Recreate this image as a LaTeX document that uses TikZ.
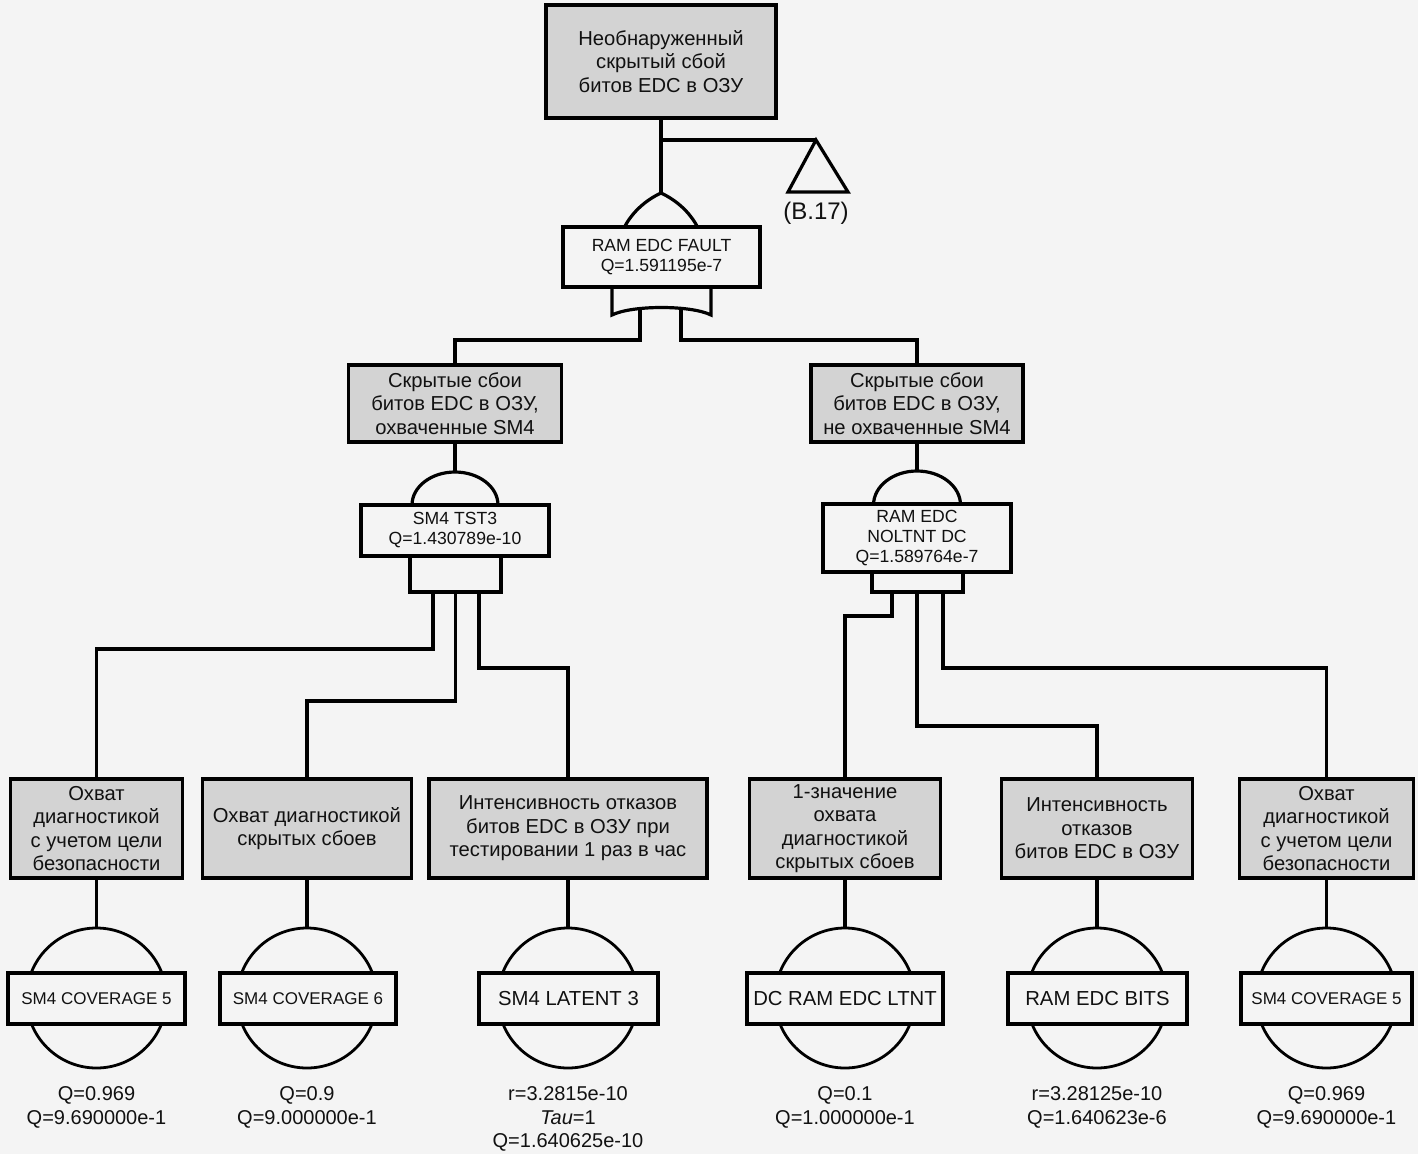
\documentclass[tikz,border=0pt]{standalone}
\usepackage{fontspec}
\setmainfont{Liberation Sans}
\definecolor{bg}{HTML}{F4F4F4}
\definecolor{boxgray}{HTML}{D3D3D3}
\definecolor{ink}{HTML}{111111}
\begin{document}
\begin{tikzpicture}[x=1pt,y=-1pt,
  line width=3.2pt, draw=black, text=ink,
  evbox/.style={draw, fill=boxgray, inner sep=0pt, align=center,
    font=\fontsize{20.2}{23.5}\selectfont},
  gatebox/.style={draw, fill=bg, inner sep=0pt, align=center,
    font=\fontsize{17.6}{20}\selectfont},
  basebox/.style={draw, fill=bg, inner sep=0pt, align=center, minimum height=51pt,
    font=\fontsize{20.3}{23}\selectfont},
  covbox/.style={basebox, font=\fontsize{17}{20}\selectfont},
  basecirc/.style={circle, draw, fill=bg, line width=2.8pt, minimum size=140pt, inner sep=0pt},
  qlbl/.style={anchor=north, inner sep=0pt, align=center,
    font=\fontsize{20}{23.5}\selectfont},
  gateshape/.style={draw, fill=bg}
]
\fill[bg] (0,0) rectangle (1418,1154);
\useasboundingbox (0,0) rectangle (1418,1154);

% ---------- gate shapes ----------
% OR gate (top)
\coordinate (g1apex) at (661,193);
\draw[gateshape] (624,228) .. controls (632,212) and (646,200) .. (g1apex)
  .. controls (676,200) and (690,212) .. (698,228);
\draw[gateshape] (612,286) -- (612,315) .. controls (632,305) and (691,305) .. (711,315) -- (711,286);
\coordinate (g1o1) at (640,307.5);
\coordinate (g1o2) at (681,307.5);
% transfer triangle
\coordinate (br) at (661,140);
\coordinate (tri) at (816,140);
\draw[gateshape] (tri) -- (788,192) -- (848,192) -- cycle;
\node[font=\fontsize{24}{26}\selectfont, inner sep=0pt] (b17) at (816,213) {(В.17)};

% AND gate left
\draw[gateshape] (412,505) arc[start angle=180, end angle=360, x radius=43, y radius=33];
\coordinate (g2top) at (455,472);
\draw[gateshape] (410,556) rectangle (501,592);
\coordinate (g2o1) at (433,592);
\coordinate (g2o2) at (455.5,592);
\coordinate (g2o3) at (479,592);

% AND gate right
\draw[gateshape] (873.5,505) arc[start angle=180, end angle=360, x radius=43.5, y radius=34];
\coordinate (g3top) at (917,471);
\draw[gateshape] (872,572) rectangle (963,592);
\coordinate (g3o1) at (892,592);
\coordinate (g3o2) at (917,592);
\coordinate (g3o3) at (943,592);

% ---------- event boxes ----------
\node[evbox, minimum width=230pt, minimum height=113pt] (top) at (661,61.5)
  {Необнаруженный\\скрытый сбой\\битов EDC в ОЗУ};
\node[gatebox, minimum width=197pt, minimum height=60pt] (g1) at (661.5,257)
  {RAM EDC FAULT\\Q=1.591195e-7};

\node[evbox, minimum width=213pt, minimum height=77pt] (L) at (455,403.5)
  {Скрытые сбои\\битов EDC в ОЗУ,\\охваченные SM4};
\node[evbox, minimum width=212pt, minimum height=77pt] (R) at (917,403.5)
  {Скрытые сбои\\битов EDC в ОЗУ,\\не охваченные SM4};

\node[gatebox, minimum width=188pt, minimum height=51pt] (g2) at (455,530.5)
  {SM4 TST3\\Q=1.430789e-10};
\node[gatebox, minimum width=188pt, minimum height=68pt] (g3) at (917,538)
  {RAM EDC\\NOLTNT DC\\Q=1.589764e-7};

\node[evbox, minimum width=172pt, minimum height=99pt] (b1) at (96.5,828.5)
  {Охват\\диагностикой\\с учетом цели\\безопасности};
\node[evbox, minimum width=209pt, minimum height=99pt] (b2) at (307,828.5)
  {Охват диагностикой\\скрытых сбоев};
\node[evbox, minimum width=278pt, minimum height=99pt] (b3) at (568,828.5)
  {Интенсивность отказов\\битов EDC в ОЗУ при\\тестировании 1 раз в час};
\node[evbox, minimum width=191pt, minimum height=99pt] (b4) at (845,828.5)
  {1-значение\\охвата\\диагностикой\\скрытых сбоев};
\node[evbox, minimum width=191pt, minimum height=99pt] (b5) at (1097,828.5)
  {Интенсивность\\отказов\\битов EDC в ОЗУ};
\node[evbox, minimum width=174pt, minimum height=99pt] (b6) at (1326.5,828.5)
  {Охват\\диагностикой\\с учетом цели\\безопасности};

% ---------- basic events ----------
\node[basecirc] (c1) at (96.5,998) {};
\node[basecirc] (c2) at (307,998) {};
\node[basecirc] (c3) at (568,998) {};
\node[basecirc] (c4) at (845,998) {};
\node[basecirc] (c5) at (1097,998) {};
\node[basecirc] (c6) at (1326.5,998) {};

\node[covbox, minimum width=177pt] (e1) at (96.5,998.5) {SM4 COVERAGE 5};
\node[covbox, minimum width=176pt] (e2) at (308,998.5) {SM4 COVERAGE 6};
\node[basebox, minimum width=179pt] (e3) at (568.5,998.5) {SM4 LATENT 3};
\node[basebox, minimum width=196pt] (e4) at (845,998.5) {DC RAM EDC LTNT};
\node[basebox, minimum width=179pt] (e5) at (1097.5,998.5) {RAM EDC BITS};
\node[covbox, minimum width=171pt] (e6) at (1326.5,998.5) {SM4 COVERAGE 5};

\node[qlbl] (q1) at (96.5,1085) {Q=0.969\\Q=9.690000e-1};
\node[qlbl] (q2) at (307,1085) {Q=0.9\\Q=9.000000e-1};
\node[qlbl] (q3) at (568,1085) {r=3.2815e-10\\\textit{Tau}=1\\Q=1.640625e-10};
\node[qlbl] (q4) at (845,1085) {Q=0.1\\Q=1.000000e-1};
\node[qlbl] (q5) at (1097,1085) {r=3.28125e-10\\Q=1.640623e-6};
\node[qlbl] (q6) at (1326.5,1085) {Q=0.969\\Q=9.690000e-1};

% ---------- connectors ----------
\draw (top.south) -- (g1apex);
\draw (br) -- (tri);
\draw (g1o1) -- ++(0,32.5) -| (L.north);
\draw (g1o2) -- ++(0,32.5) -| (R.north);
\draw (L.south) -- (g2top);
\draw (R.south) -- (g3top);

\draw (g2o1) -- ++(0,57) -| (b1.north);
\draw (g2o2) -- ++(0,109) -| (b2.north);
\draw (g2o3) -- ++(0,76) -| (b3.north);

\draw (g3o1) -- ++(0,24) -| (b4.north);
\draw (g3o2) -- ++(0,134) -| (b5.north);
\draw (g3o3) -- ++(0,76) -| (b6.north);

\draw (b1.south) -- (c1.north);
\draw (b2.south) -- (c2.north);
\draw (b3.south) -- (c3.north);
\draw (b4.south) -- (c4.north);
\draw (b5.south) -- (c5.north);
\draw (b6.south) -- (c6.north);
\end{tikzpicture}
\end{document}
